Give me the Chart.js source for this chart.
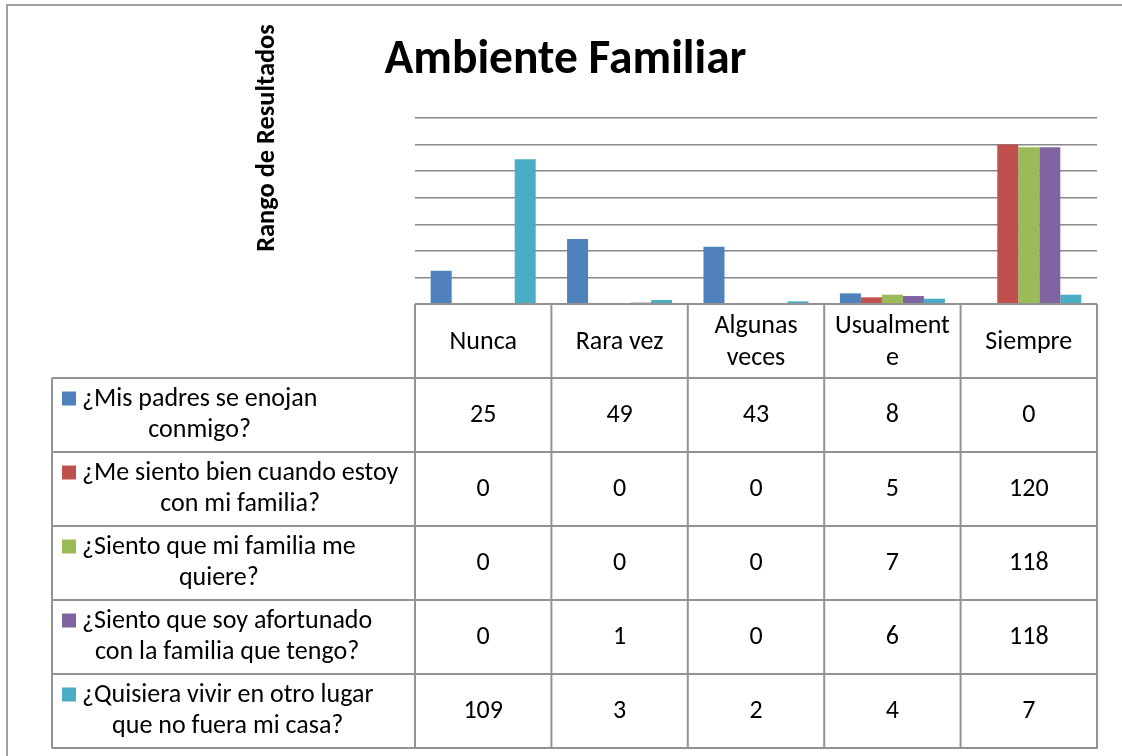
<!DOCTYPE html>
<html>
<head>
<meta charset="utf-8">
<script src="https://cdn.jsdelivr.net/npm/chart.js@4.4.1/dist/chart.umd.min.js"></script>
<style>
  html, body { margin: 0; padding: 0; background: #ffffff; }
  #wrap { position: relative; width: 1122px; height: 756px; }
</style>
</head>
<body>
<div id="wrap"><canvas id="c" width="1122" height="756"></canvas></div>
<script>
// ---------- data ----------
const chartTitle = 'Ambiente Familiar';
const yAxisTitle = 'Rango de Resultados';
const categories = ['Nunca', 'Rara vez', 'Algunas veces', 'Usualmente', 'Siempre'];
const categoryTickLabels = [['Nunca'], ['Rara vez'], ['Algunas', 'veces'], ['Usualment', 'e'], ['Siempre']];
const seriesNames = [
  '¿Mis padres se enojan conmigo?',
  '¿Me siento bien cuando estoy con mi familia?',
  '¿Siento que mi familia me quiere?',
  '¿Siento que soy afortunado con la familia que tengo?',
  '¿Quisiera vivir en otro lugar que no fuera mi casa?'
];
const seriesLabelLines = [
  ['¿Mis padres se enojan', 'conmigo?'],
  ['¿Me siento bien cuando estoy', 'con mi familia?'],
  ['¿Siento que mi familia me', 'quiere?'],
  ['¿Siento que soy afortunado', 'con la familia que tengo?'],
  ['¿Quisiera vivir en otro lugar', 'que no fuera mi casa?']
];
const seriesColors = ['#4F81BD', '#C0504D', '#9BBB59', '#8064A2', '#4BACC6'];
const padresEnojan   = [25, 49, 43, 8, 0];
const bienFamilia    = [0, 0, 0, 5, 120];
const familiaQuiere  = [0, 0, 0, 7, 118];
const afortunado     = [0, 1, 0, 6, 118];
const otroLugar      = [109, 3, 2, 4, 7];
const seriesValues = [padresEnojan, bienFamilia, familiaQuiere, afortunado, otroLugar];
const yMin = 0, yMax = 140, yStep = 20;

// ---------- styles ----------
const FONT = 'Carlito, Lato, "Open Sans", sans-serif';
const tableFontSize = 26;
const lineColor = '#939393';

const tablePlugin = {
  id: 'dataTable',
  afterDraw(chart) {
    const { ctx, chartArea: ca, scales } = chart;
    const xs = scales.x;
    const n = categories.length;
    const colW = (ca.right - ca.left) / n;
    const rowH = 74;
    const legendLeft = 52;
    const top = ca.bottom;
    const nRows = seriesValues.length;
    const bottom = top + rowH * (nRows + 1);
    ctx.save();

    // outer frame (top + left visible)
    ctx.strokeStyle = '#a0a0a0';
    ctx.lineWidth = 2;
    ctx.beginPath();
    ctx.moveTo(7, chart.height);
    ctx.lineTo(7, 5);
    ctx.lineTo(chart.width, 5);
    ctx.stroke();

    // y axis title
    ctx.save();
    ctx.translate(267, 138);
    ctx.rotate(-Math.PI / 2);
    ctx.font = 'bold 26.4px ' + FONT;
    ctx.fillStyle = '#000';
    ctx.textAlign = 'center';
    ctx.textBaseline = 'middle';
    ctx.fillText(yAxisTitle, 0, 0);
    ctx.restore();

    // table grid
    ctx.strokeStyle = lineColor;
    ctx.lineWidth = 2;
    ctx.beginPath();
    for (let i = 0; i <= n; i++) {
      const xx = ca.left + i * colW;
      ctx.moveTo(xx, top);
      ctx.lineTo(xx, bottom);
    }
    ctx.moveTo(ca.left, top);
    ctx.lineTo(ca.right, top);
    for (let r = 1; r <= nRows + 1; r++) {
      const yy = top + r * rowH;
      ctx.moveTo(legendLeft, yy);
      ctx.lineTo(ca.right + 1, yy);
    }
    ctx.moveTo(legendLeft, top + rowH);
    ctx.lineTo(legendLeft, bottom);
    ctx.stroke();

    ctx.fillStyle = '#000';
    ctx.font = tableFontSize + 'px ' + FONT;
    ctx.textBaseline = 'middle';
    const lh = 31;
    const hlh = 32;

    // header labels
    ctx.textAlign = 'center';
    categoryTickLabels.forEach((lines, i) => {
      const cx = xs.getPixelForValue(i);
      const cy = top + rowH / 2 + 1;
      lines.forEach((t, k) => {
        ctx.fillText(t, cx, cy + (k - (lines.length - 1) / 2) * hlh);
      });
    });

    // rows
    seriesValues.forEach((vals, r) => {
      const rTop = top + (r + 1) * rowH;
      const cy = rTop + rowH / 2;
      const lines = seriesLabelLines[r];
      const y0 = cy - (lines.length - 1) / 2 * lh;
      // legend key
      ctx.fillStyle = seriesColors[r];
      ctx.fillRect(62, y0 - 8, 14, 14);
      ctx.fillStyle = '#000';
      const textLeft = 82;
      const widths = lines.map(t => ctx.measureText(t).width);
      const blockW = Math.max(...widths);
      ctx.textAlign = 'center';
      lines.forEach((t, k) => {
        ctx.fillText(t, textLeft + blockW / 2, y0 + k * lh);
      });
      // values
      vals.forEach((v, i) => {
        ctx.fillText(String(v), xs.getPixelForValue(i), cy);
      });
    });
    ctx.restore();
  }
};

new Chart(document.getElementById('c'), {
  type: 'bar',
  data: {
    labels: categories,
    datasets: seriesNames.map((name, i) => ({
      label: name,
      data: seriesValues[i],
      backgroundColor: seriesColors[i],
      borderWidth: 0,
      categoryPercentage: 0.77,
      barPercentage: 1.0
    }))
  },
  options: {
    responsive: false,
    animation: false,
    layout: { padding: { left: 34, right: 25, top: 0, bottom: 452 } },
    plugins: {
      legend: { display: false },
      tooltip: { enabled: false },
      title: {
        display: true,
        text: chartTitle,
        color: '#000',
        font: { family: FONT, size: 47.5, weight: 'bold', lineHeight: 1.2 },
        padding: { top: 33, bottom: 28 }
      }
    },
    scales: {
      x: { display: false },
      y: {
        min: yMin, max: yMax,
        ticks: { display: false, stepSize: yStep },
        grid: { color: '#8a8a8a', lineWidth: 1.5, drawTicks: false },
        border: { display: false },
        afterFit(scale) { scale.width = 415 - 34; }
      }
    }
  },
  plugins: [tablePlugin]
});
</script>
</body>
</html>
